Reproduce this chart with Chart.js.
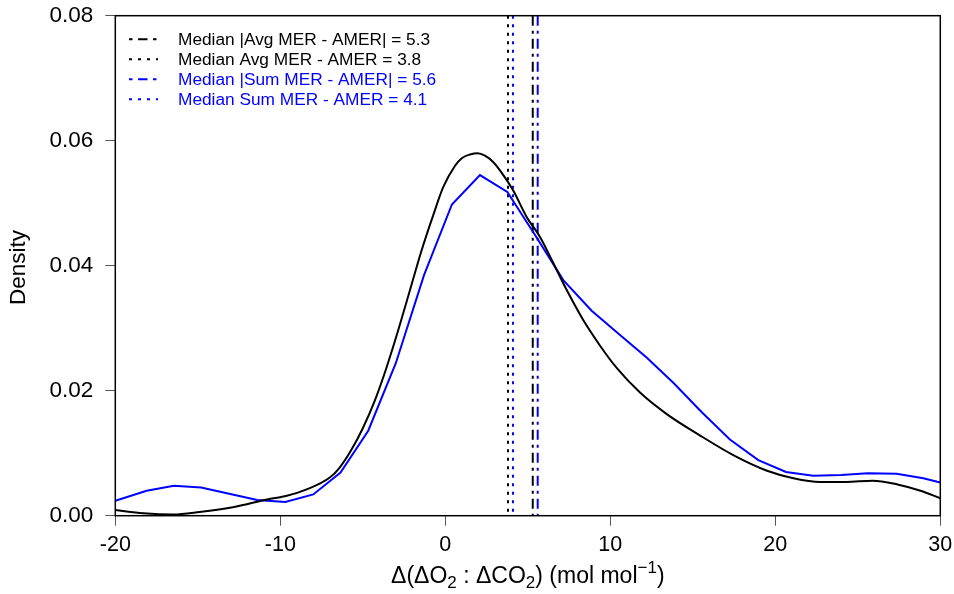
<!DOCTYPE html>
<html lang="en">
<head>
  <meta charset="UTF-8">
  <title>Density of MER differences</title>
  <script src="https://cdn.jsdelivr.net/npm/chart.js"></script>
  <style>
    body { margin: 0; background: #ffffff; }
    #wrap { width: 954px; height: 594px; }
  </style>
</head>
<body>
  <div id="wrap"><canvas id="densityChart" width="954" height="594"></canvas></div>

  <script>
    // black KDE curve (Avg MER - AMER)
    const avgX = [-20, -18.3, -16.5, -14.9, -12.8, -10.8, -9.6, -8.4, -7.0, -6.4, -5.7, -5.0, -4.26, -3.55, -2.85, -2.14, -1.43, -0.73, -0.12, 0.59, 1.0, 1.5, 1.96, 2.4, 2.9, 3.3, 4.1, 4.93, 5.74, 6.55, 7.36, 8.36, 9.38, 10.4, 11.8, 13.4, 15.4, 17.45, 19.5, 21.1, 22.7, 24.3, 25.9, 27.4, 28.8, 30];
    const avgY = [0.0009, 0.0004, 0.0002, 0.0006, 0.0014, 0.0026, 0.0032, 0.0042, 0.0061, 0.0077, 0.0105, 0.0140, 0.0185, 0.0238, 0.0297, 0.0361, 0.0425, 0.0481, 0.0526, 0.0560, 0.0572, 0.0578, 0.0580, 0.0576, 0.0566, 0.0553, 0.0521, 0.0478, 0.0446, 0.0404, 0.0361, 0.0313, 0.0272, 0.0236, 0.0197, 0.0163, 0.0129, 0.0097, 0.0072, 0.0060, 0.0054, 0.0054, 0.0056, 0.0050, 0.0040, 0.0028];

    // blue density polyline (Sum MER - AMER)
    const sumX = [-20, -18.1, -16.45, -14.8, -13.1, -11.4, -9.7, -8.0, -6.35, -4.67, -3.0, -1.29, 0.4, 2.1, 3.76, 5.44, 7.15, 8.87, 10.5, 12.2, 13.85, 15.53, 17.25, 18.97, 20.65, 22.3, 24.0, 25.6, 27.35, 28.97, 30];
    const sumY = [0.0024, 0.0040, 0.0048, 0.0045, 0.0035, 0.0025, 0.0022, 0.0034, 0.0069, 0.0136, 0.0244, 0.0385, 0.0498, 0.0545, 0.0518, 0.0449, 0.0377, 0.0328, 0.0291, 0.0253, 0.0212, 0.0166, 0.0122, 0.0089, 0.0070, 0.0064, 0.0065, 0.0068, 0.0067, 0.0060, 0.0053];

    // medians shown as vertical lines
    const medianLabels = ['Median |Avg MER - AMER| = 5.3', 'Median Avg MER - AMER = 3.8', 'Median |Sum MER - AMER| = 5.6', 'Median Sum MER - AMER = 4.1'];
    const medianValues = [5.3, 3.8, 5.6, 4.1];
    const medianColors = ['#000000', '#000000', '#0000ff', '#0000ff'];

    const xTicks = [-20, -10, 0, 10, 20, 30];
    const yTicks = [0, 0.02, 0.04, 0.06, 0.08];

    const dotDash = [10, 5, 3, 5];
    const dotted = [3, 5.5];
    const medianDash = [dotDash, dotted, dotDash, dotted];

    const toPoints = (xs, ys) => xs.map((x, i) => ({ x: x, y: ys[i] }));

    const datasets = [
      {
        label: 'Avg MER - AMER',
        data: toPoints(avgX, avgY),
        borderColor: '#000000',
        borderWidth: 2,
        cubicInterpolationMode: 'monotone'
      },
      {
        label: 'Sum MER - AMER',
        data: toPoints(sumX, sumY),
        borderColor: '#0000ff',
        borderWidth: 2,
        tension: 0
      }
    ];
    medianValues.forEach((m, i) => {
      datasets.push({
        label: medianLabels[i],
        data: [{ x: m, y: 0.08 }, { x: m, y: 0 }],
        borderColor: medianColors[i],
        borderWidth: 2,
        borderDash: medianDash[i]
      });
    });

    const PLOT = { left: 115.3, right: 940.3, top: 15.7, bottom: 515.7 };
    const FONT = 'Liberation Sans, Arial, Helvetica, sans-serif';

    // box, legend and axis titles, drawn the way R draws them
    const extras = {
      id: 'extras',
      afterDraw(chart) {
        const c = chart.ctx;
        const a = chart.chartArea;
        c.save();
        c.strokeStyle = '#000000';
        c.lineWidth = 1.5;
        c.setLineDash([]);
        c.strokeRect(a.left, a.top, a.right - a.left, a.bottom - a.top);

        // legend
        c.font = '17.3px ' + FONT;
        c.textBaseline = 'middle';
        c.textAlign = 'left';
        const legendDash = [[3.5, 5.5, 9.5, 5.5], [3, 6], [3.5, 5.5, 9.5, 5.5], [3, 6]];
        medianLabels.forEach((txt, i) => {
          const y = 39.3 + i * 20;
          c.strokeStyle = medianColors[i];
          c.lineWidth = 2;
          c.setLineDash(legendDash[i]);
          c.beginPath();
          c.moveTo(129, y);
          c.lineTo(158, y);
          c.stroke();
          c.fillStyle = medianColors[i];
          c.fillText(txt, 178, y + 1);
        });
        c.setLineDash([]);

        // x title with sub/superscripts
        const parts = [
          ['\u0394(\u0394O', 0], ['2', 1], [' : \u0394CO', 0], ['2', 1], [') (mol mol', 0], ['\u22121', 2], [')', 0]
        ];
        const big = '23px ' + FONT, small = '17px ' + FONT;
        let total = 0;
        parts.forEach(p => { c.font = p[1] ? small : big; total += c.measureText(p[0]).width; });
        let x = (a.left + a.right) / 2 - total / 2;
        const base = 583;
        c.fillStyle = '#000000';
        c.textBaseline = 'alphabetic';
        parts.forEach(p => {
          c.font = p[1] ? small : big;
          const dy = p[1] === 1 ? 5 : (p[1] === 2 ? -10 : 0);
          c.fillText(p[0], x, base + dy);
          x += c.measureText(p[0]).width;
        });

        // y title
        c.translate(25, 267.5);
        c.rotate(-Math.PI / 2);
        c.font = '22.5px ' + FONT;
        c.textAlign = 'center';
        c.fillText('Density', 0, 0);
        c.restore();
      }
    };

    new Chart(document.getElementById('densityChart'), {
      type: 'scatter',
      data: { datasets: datasets },
      options: {
        responsive: false,
        animation: false,
        showLine: true,
        elements: { point: { radius: 0, hoverRadius: 0 } },
        layout: { padding: { left: 0, right: 954 - PLOT.right, top: PLOT.top, bottom: 0 } },
        plugins: { legend: { display: false }, tooltip: { enabled: false } },
        scales: {
          x: {
            type: 'linear',
            min: xTicks[0],
            max: xTicks[xTicks.length - 1],
            afterBuildTicks: s => { s.ticks = xTicks.map(v => ({ value: v })); },
            afterFit: s => {
              s.height = 594 - PLOT.bottom;
              s.paddingLeft = 0; s.paddingRight = 0;
            },
            border: { display: false },
            grid: { drawOnChartArea: false, drawTicks: true, tickLength: 10, color: '#555555', lineWidth: 1 },
            ticks: { color: '#000000', padding: 6, maxRotation: 0, font: { family: FONT, size: 21.5 } }
          },
          y: {
            min: yTicks[0],
            max: yTicks[yTicks.length - 1],
            afterBuildTicks: s => { s.ticks = yTicks.map(v => ({ value: v })); },
            afterFit: s => {
              s.width = PLOT.left;
              s.paddingTop = 0; s.paddingBottom = 0;
            },
            border: { display: false },
            grid: { drawOnChartArea: false, drawTicks: true, tickLength: 10, color: '#555555', lineWidth: 1 },
            ticks: { color: '#000000', padding: 12, callback: v => v.toFixed(2), font: { family: FONT, size: 22.5 } }
          }
        }
      },
      plugins: [extras]
    });
  </script>
</body>
</html>
